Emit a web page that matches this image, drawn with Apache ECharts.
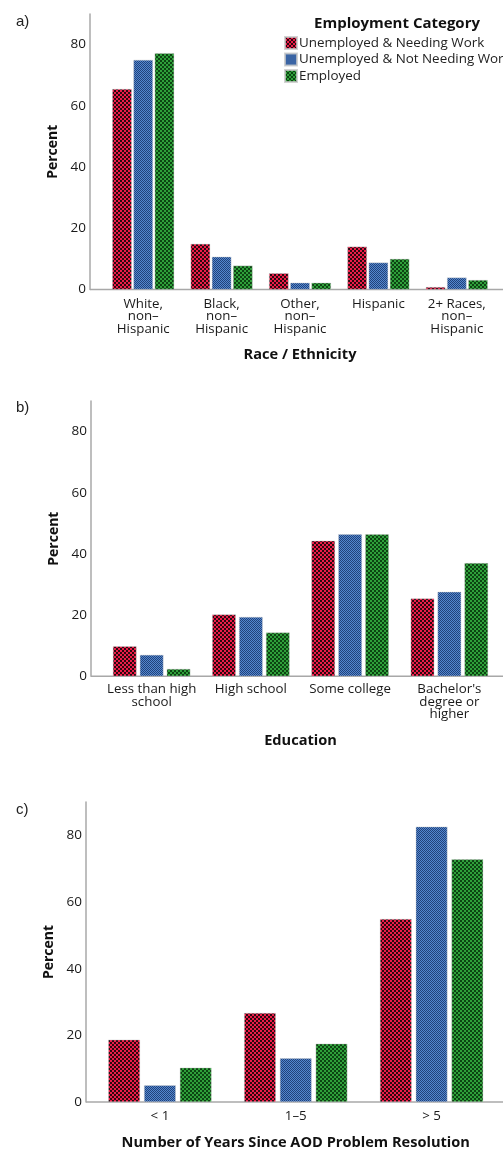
<!DOCTYPE html>
<html>
<head>
<meta charset="utf-8">
<script src="https://cdn.jsdelivr.net/npm/echarts@6/dist/echarts.min.js"></script>
<style>
html,body{margin:0;padding:0;background:#fff;}
#chart{width:503px;height:1151px;}
</style>
</head>
<body>
<div id="chart"></div>
<script>
// ---- data ----
const seriesNames = ["Unemployed & Needing Work", "Unemployed & Not Needing Work", "Employed"];

const raceCategories = ["White,\nnon–\nHispanic", "Black,\nnon–\nHispanic", "Other,\nnon–\nHispanic", "Hispanic", "2+ Races,\nnon–\nHispanic"];
const raceNeeding    = [65.5, 14.9, 5.3, 14.0, 0.8];
const raceNotNeeding = [75.0, 10.7, 2.2, 8.8, 3.9];
const raceEmployed   = [77.2, 7.8, 2.2, 10.0, 3.1];

const eduCategories = ["Less than high\nschool", "High school", "Some college", "Bachelor's\ndegree or\nhigher"];
const eduNeeding    = [9.8, 20.2, 44.3, 25.4];
const eduNotNeeding = [7.0, 19.4, 46.4, 27.6];
const eduEmployed   = [2.4, 14.3, 46.4, 37.0];

const yearsCategories = ["< 1", "1–5", "> 5"];
const yearsNeeding    = [18.7, 26.7, 54.9];
const yearsNotNeeding = [5.0, 13.1, 82.6];
const yearsEmployed   = [10.3, 17.5, 72.8];

const yTicks = [0, 20, 40, 60, 80];
const panelLabels = ["a)", "b)", "c)"];
const axisNames = ["Race / Ethnicity", "Education", "Number of Years Since AOD Problem Resolution"];
const legendTitle = "Employment Category";

// ---- patterns ----
function checker(base, dark, cell) {
  const c = document.createElement('canvas');
  c.width = c.height = cell * 2;
  const ctx = c.getContext('2d');
  ctx.fillStyle = base; ctx.fillRect(0, 0, cell * 2, cell * 2);
  ctx.fillStyle = dark;
  ctx.fillRect(0, 0, cell, cell);
  ctx.fillRect(cell, cell, cell, cell);
  return { image: c, repeat: 'repeat' };
}
const fills = [
  checker('#ee1c48', '#2c0810', 2),
  checker('#5387cf', '#21427a', 1),
  checker('#2fa03a', '#0c4412', 2)
];

const FONT = '"Open Sans", sans-serif';
const chart = echarts.init(document.getElementById('chart'), null, { renderer: 'canvas' });

const grids = [
  { left: 104, width: 392, top: 14, height: 275.5 },
  { left: 102, width: 397, top: 401, height: 275.3 },
  { left: 92, width: 407.5, top: 802, height: 301.5 }
];
const yOffsets = [14, 11, 6];
const nameGaps = [58, 57, 33];
const labelMargins = [8, 7, 8];
const catGaps = ['21%', '22%', '24%'];
const barGaps = ['9%', '14%', '13%'];
const cats = [raceCategories, eduCategories, yearsCategories];
const data = [
  [raceNeeding, raceNotNeeding, raceEmployed],
  [eduNeeding, eduNotNeeding, eduEmployed],
  [yearsNeeding, yearsNotNeeding, yearsEmployed]
];

const series = [];
for (let p = 0; p < 3; p++) {
  for (let s = 0; s < 3; s++) {
    series.push({
      type: 'bar',
      name: seriesNames[s],
      xAxisIndex: p, yAxisIndex: p,
      data: data[p][s],
      barCategoryGap: catGaps[p],
      barGap: barGaps[p],
      itemStyle: { color: fills[s], borderColor: 'rgba(200,200,200,0.8)', borderWidth: 0.5 },
      emphasis: { disabled: true },
      animation: false
    });
  }
}

const option = {
  animation: false,
  textStyle: { fontFamily: FONT },
  title: panelLabels.map((t, i) => ({
    text: t, left: 11, top: [9, 395, 797][i],
    textStyle: { fontFamily: '"Liberation Sans", Arial, sans-serif', fontWeight: 'normal', fontSize: 15, color: '#222' }
  })).concat([{
    text: legendTitle, left: 397, top: 16, textAlign: 'center', padding: 0,
    textStyle: { fontFamily: FONT, fontWeight: 'bold', fontSize: 15, color: '#111' }
  }]),
  legend: {
    data: seriesNames,
    orient: 'vertical',
    left: 284, top: 36,
    itemWidth: 12, itemHeight: 12, itemGap: 2.5,
    icon: 'rect',
    padding: 0,
    selectedMode: false,
    textStyle: { fontFamily: FONT, fontSize: 13.4, lineHeight: 14, color: '#222', padding: [0, 0, 0, -3] }
  },
  grid: grids,
  xAxis: cats.map((c, i) => ({
    type: 'category', gridIndex: i, data: c,
    axisLine: { show: false },
    axisTick: { show: false },
    axisLabel: { interval: 0, margin: labelMargins[i], fontFamily: FONT, fontSize: 13.3, color: '#1a1a1a', lineHeight: 12.5 },
    name: axisNames[i], nameLocation: 'middle', nameGap: nameGaps[i],
    nameTextStyle: { fontFamily: FONT, fontWeight: 'bold', fontSize: 14.6, color: '#111' }
  })),
  yAxis: [0, 1, 2].map(i => ({
    type: 'value', gridIndex: i, min: 0, max: 90, interval: 20,
    offset: yOffsets[i],
    axisLine: { show: true, lineStyle: { color: '#a8a8a8', width: 1.5 } },
    axisTick: { show: false },
    splitLine: { show: false },
    axisLabel: { customValues: yTicks, margin: 4, fontFamily: FONT, fontSize: 13.5, color: '#1a1a1a' },
    name: 'Percent', nameLocation: 'middle', nameGap: [29, 30, 30][i], nameRotate: 90,
    nameTextStyle: { fontFamily: FONT, fontWeight: 'bold', fontSize: 14, color: '#111' }
  })),
  series: series
};
chart.setOption(option);

// x-axis baselines from the y axis line to the right edge
const lines = [];
for (let i = 0; i < 3; i++) {
  const y0 = chart.convertToPixel({ yAxisIndex: i }, 0);
  const x0 = grids[i].left - yOffsets[i];
  lines.push({
    type: 'line', silent: true,
    shape: { x1: x0, y1: y0, x2: 503, y2: y0 },
    style: { stroke: '#a8a8a8', lineWidth: 1.5 }
  });
}
chart.setOption({ graphic: lines });
</script>
</body>
</html>
